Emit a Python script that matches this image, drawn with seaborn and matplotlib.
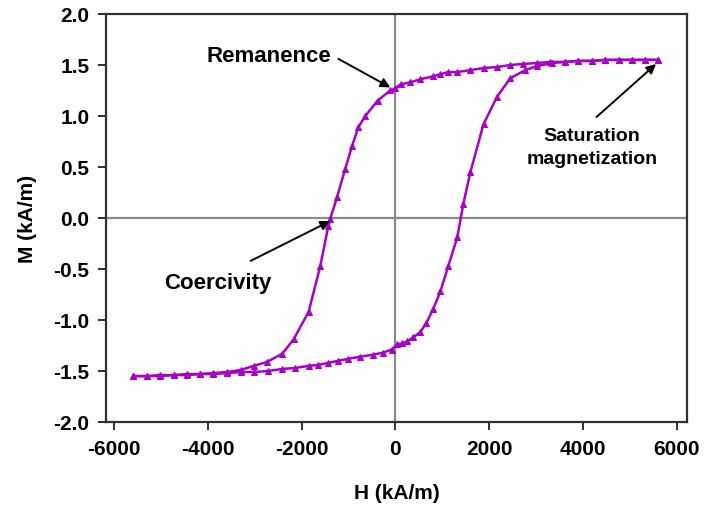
import matplotlib
matplotlib.use("Agg")
import matplotlib.pyplot as plt
import seaborn as sns
import pandas as pd

# Descending branch (from +saturation to -saturation)
H_down = [5610, 5330, 5050, 4760, 4480, 4200, 3900, 3620, 3300, 3030, 2730, 2450,
          2170, 1880, 1600, 1320, 1130, 960, 810, 530, 320, 110, 0, -110, -380,
          -640, -790, -920, -1070, -1240, -1390, -1430, -1600, -1850, -2170, -2410,
          -2730, -3020, -3300, -3580, -3880, -4160, -4440, -4730, -5010, -5290, -5590]
M_down = [1.55, 1.55, 1.55, 1.55, 1.55, 1.54, 1.54, 1.53, 1.53, 1.52, 1.51, 1.50,
          1.48, 1.47, 1.45, 1.43, 1.43, 1.41, 1.39, 1.36, 1.33, 1.31, 1.27, 1.25, 1.15,
          1.00, 0.89, 0.71, 0.48, 0.21, -0.01, -0.08, -0.47, -0.92, -1.19, -1.33,
          -1.41, -1.45, -1.49, -1.51, -1.52, -1.53, -1.53, -1.54, -1.54, -1.55, -1.55]

# Ascending branch (from -saturation to +saturation)
H_up = [-5590, -5290, -5010, -4730, -4440, -4160, -3880, -3580, -3300, -3020, -2710,
        -2410, -2130, -1850, -1640, -1430, -1220, -1000, -750, -470, -260, -80, 40,
        150, 250, 380, 530, 660, 810, 960, 1130, 1320, 1450, 1600, 1880, 2170, 2450,
        2770, 3020, 3350, 3620, 3900, 4200, 4480, 4760, 5050, 5330, 5610]
M_up = [-1.55, -1.55, -1.55, -1.54, -1.54, -1.53, -1.53, -1.52, -1.51, -1.51, -1.50,
        -1.48, -1.47, -1.45, -1.44, -1.42, -1.40, -1.38, -1.36, -1.34, -1.32, -1.29, -1.24,
        -1.23, -1.21, -1.17, -1.12, -1.03, -0.89, -0.72, -0.47, -0.19, 0.14, 0.45, 0.92,
        1.19, 1.37, 1.45, 1.49, 1.52, 1.53, 1.54, 1.54, 1.55, 1.55, 1.55, 1.55, 1.55]

x_ticks = [-6000, -4000, -2000, 0, 2000, 4000, 6000]
y_ticks = [-2.0, -1.5, -1.0, -0.5, 0.0, 0.5, 1.0, 1.5, 2.0]
x_label = "H (kA/m)"
y_label = "M (kA/m)"

sns.set_theme(style="white")
plt.rcParams['font.family'] = ['Liberation Sans', 'DejaVu Sans']
plt.rcParams['text.color'] = 'black'
plt.rcParams['axes.labelcolor'] = 'black'
plt.rcParams['xtick.color'] = 'black'
plt.rcParams['ytick.color'] = 'black'

fig = plt.figure(figsize=(7.04, 5.10), dpi=100)
ax = fig.add_axes([0.1506, 0.1706, 0.8253, 0.80])

color = '#A800C8'
df_down = pd.DataFrame({'H': H_down, 'M': M_down})
df_up = pd.DataFrame({'H': H_up, 'M': M_up})

ax.axhline(0, color='#8a8a8a', lw=1.6, zorder=1)
ax.axvline(0, color='#8a8a8a', lw=1.6, zorder=1)

for d in (df_down, df_up):
    sns.lineplot(data=d, x='H', y='M', sort=False, ax=ax, color=color, lw=1.8,
                 marker='^', markersize=5, markeredgecolor=color, markerfacecolor=color,
                 zorder=3)

ax.set_xlim(-6170, 6220)
ax.set_ylim(-2.0, 2.0)
ax.set_xticks(x_ticks)
ax.set_xticklabels([f"{v}" for v in x_ticks])
ax.set_yticks(y_ticks)
ax.set_yticklabels([f"{v:.1f}" for v in y_ticks])

for s in ax.spines.values():
    s.set_color('#303030')
    s.set_linewidth(1.6)

ax.tick_params(axis='both', which='major', direction='out', length=6, width=1.4,
               color='#303030', labelcolor='black', labelsize=15, pad=6,
               bottom=True, left=True)
for lab in ax.get_xticklabels() + ax.get_yticklabels():
    lab.set_fontweight('bold')

ax.set_xlabel(x_label, fontsize=15, fontweight='bold', labelpad=18, color='black')
ax.set_ylabel(y_label, fontsize=15, fontweight='bold', labelpad=12, color='black')
ax.grid(False)

arrow = dict(arrowstyle='-|>', color='black', lw=1.4, mutation_scale=14,
             shrinkA=0, shrinkB=0)
# Remanence
ax.text(-2700, 1.59, "Remanence", ha='center', va='center', fontsize=16,
        fontweight='bold', color='black')
ax.annotate("", xy=(-107, 1.28), xytext=(-1215, 1.56), arrowprops=arrow)
# Coercivity
ax.text(-3790, -0.63, "Coercivity", ha='center', va='center', fontsize=16,
        fontweight='bold', color='black')
ax.annotate("", xy=(-1390, -0.03), xytext=(-3085, -0.42), arrowprops=arrow)
# Saturation magnetization
ax.annotate("", xy=(5560, 1.51), xytext=(4290, 0.99), arrowprops=arrow)
ax.text(4190, 0.70, "Saturation\nmagnetization", ha='center', va='center',
        fontsize=14, fontweight='bold', linespacing=1.45, color='black')

fig.savefig("out.png", dpi=100)
